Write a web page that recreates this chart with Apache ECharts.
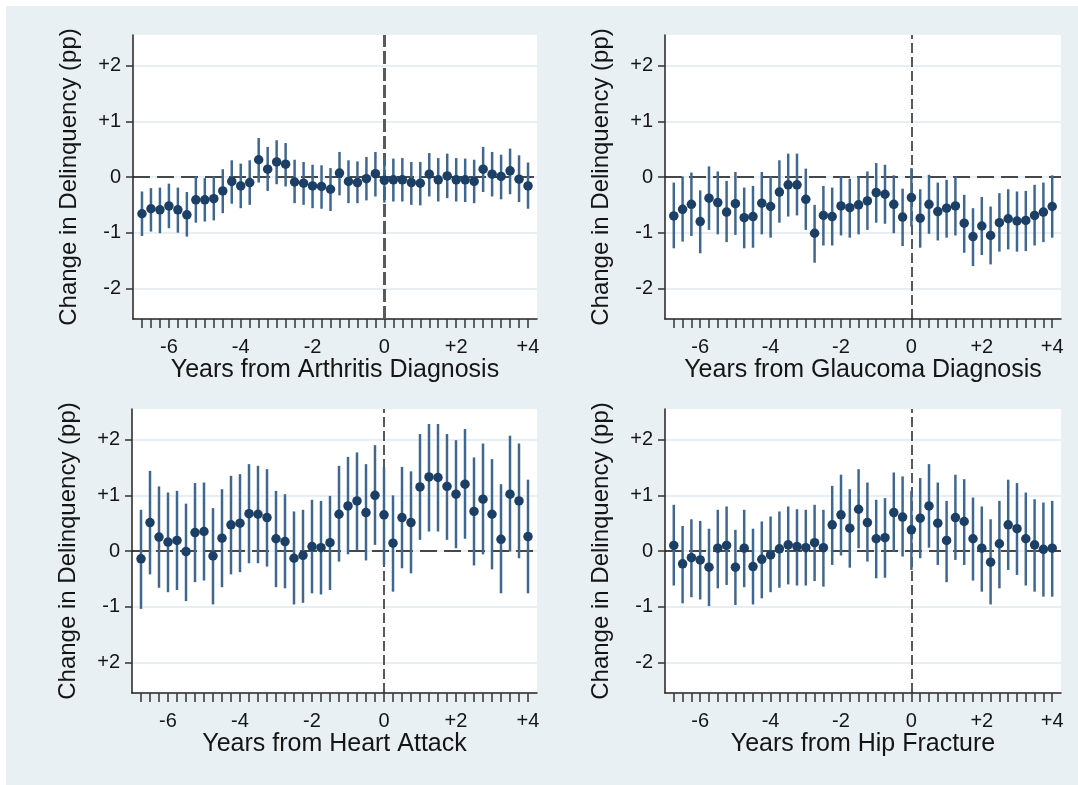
<!DOCTYPE html>
<html>
<head>
<meta charset="utf-8">
<script src="https://cdn.jsdelivr.net/npm/echarts@6/dist/echarts.min.js"></script>
<style>
  html, body { margin: 0; padding: 0; background: #fff; }
  #frame { position: absolute; left: 6px; top: 6px; width: 1072px; height: 779px; background: #e8f0f3; }
  #chart { position: absolute; left: 0; top: 0; width: 1078px; height: 785px; }
</style>
</head>
<body>
<div id="frame"></div>
<div id="chart"></div>
<script>
  // quarters relative to the event
  const quarters = [-6.75, -6.5, -6.25, -6, -5.75, -5.5, -5.25, -5, -4.75, -4.5, -4.25, -4,
    -3.75, -3.5, -3.25, -3, -2.75, -2.5, -2.25, -2, -1.75, -1.5, -1.25, -1, -0.75, -0.5, -0.25,
    0, 0.25, 0.5, 0.75, 1, 1.25, 1.5, 1.75, 2, 2.25, 2.5, 2.75, 3, 3.25, 3.5, 3.75, 4]

  const xTickValues = [-6, -4, -2, 0, 2, 4]
  const xTickLabels = ['-6', '-4', '-2', '0', '+2', '+4']
  const yTickValues = [-2, -1, 0, 1, 2]
  const yTickLabels = ['-2', '-1', '0', '+1', '+2']
  const heartYTickLabels = ['+2', '-1', '0', '+1', '+2']

  const arthritisEst = [-0.66, -0.57, -0.59, -0.52, -0.59, -0.68, -0.41, -0.41, -0.39, -0.25, -0.08, -0.16, -0.10, 0.31, 0.14, 0.27, 0.23, -0.09, -0.11, -0.16, -0.17, -0.22, 0.07, -0.08, -0.10, -0.03, 0.06, -0.06, -0.05, -0.05, -0.10, -0.11, 0.05, -0.05, 0.02, -0.05, -0.05, -0.08, 0.14, 0.05, 0.01, 0.11, -0.04, -0.16]
  const arthritisLo = [-1.06, -0.98, -1.01, -0.92, -1.00, -1.07, -0.82, -0.80, -0.78, -0.65, -0.48, -0.56, -0.50, -0.10, -0.25, -0.13, -0.17, -0.47, -0.50, -0.56, -0.57, -0.61, -0.33, -0.47, -0.47, -0.42, -0.35, -0.46, -0.44, -0.44, -0.50, -0.51, -0.35, -0.44, -0.38, -0.44, -0.45, -0.47, -0.27, -0.35, -0.40, -0.31, -0.45, -0.57]
  const arthritisHi = [-0.26, -0.20, -0.19, -0.12, -0.19, -0.27, 0.01, -0.02, 0.01, 0.14, 0.30, 0.24, 0.30, 0.70, 0.54, 0.66, 0.61, 0.31, 0.27, 0.22, 0.21, 0.16, 0.45, 0.30, 0.28, 0.36, 0.45, 0.33, 0.33, 0.34, 0.27, 0.27, 0.43, 0.34, 0.42, 0.34, 0.33, 0.31, 0.54, 0.45, 0.40, 0.51, 0.39, 0.26]

  const glaucomaEst = [-0.70, -0.58, -0.49, -0.80, -0.38, -0.46, -0.63, -0.48, -0.73, -0.71, -0.47, -0.53, -0.27, -0.14, -0.14, -0.40, -1.01, -0.69, -0.71, -0.52, -0.55, -0.50, -0.43, -0.28, -0.31, -0.49, -0.72, -0.37, -0.74, -0.49, -0.62, -0.56, -0.52, -0.83, -1.07, -0.88, -1.05, -0.82, -0.75, -0.79, -0.78, -0.69, -0.63, -0.53]
  const glaucomaLo = [-1.28, -1.16, -1.06, -1.37, -0.95, -1.03, -1.17, -1.04, -1.28, -1.27, -1.03, -1.09, -0.82, -0.71, -0.69, -0.95, -1.54, -1.23, -1.23, -1.05, -1.09, -1.03, -0.95, -0.82, -0.84, -1.01, -1.24, -0.89, -1.27, -1.02, -1.14, -1.09, -1.05, -1.36, -1.60, -1.40, -1.57, -1.34, -1.30, -1.34, -1.33, -1.23, -1.17, -1.09]
  const glaucomaHi = [-0.10, 0.01, 0.08, -0.24, 0.19, 0.10, -0.07, 0.09, -0.19, -0.16, 0.09, 0.01, 0.30, 0.42, 0.42, 0.15, -0.50, -0.16, -0.19, 0.01, -0.03, 0.01, 0.10, 0.25, 0.22, 0.03, -0.21, 0.16, -0.22, 0.04, -0.10, -0.05, 0.01, -0.32, -0.56, -0.36, -0.53, -0.29, -0.22, -0.26, -0.25, -0.14, -0.10, 0.03]

  const heartEst = [-0.14, 0.51, 0.25, 0.16, 0.19, -0.01, 0.33, 0.35, -0.09, 0.23, 0.47, 0.50, 0.67, 0.66, 0.60, 0.22, 0.17, -0.13, -0.08, 0.08, 0.06, 0.15, 0.66, 0.81, 0.90, 0.69, 1.00, 0.65, 0.14, 0.60, 0.51, 1.15, 1.33, 1.32, 1.16, 1.02, 1.20, 0.71, 0.93, 0.66, 0.21, 1.02, 0.90, 0.26]
  const heartLo = [-1.04, -0.42, -0.66, -0.74, -0.70, -0.90, -0.56, -0.53, -0.96, -0.65, -0.42, -0.38, -0.22, -0.22, -0.28, -0.65, -0.67, -0.96, -0.93, -0.76, -0.78, -0.70, -0.19, -0.06, 0.02, -0.17, 0.11, -0.25, -0.73, -0.31, -0.40, 0.20, 0.35, 0.35, 0.20, 0.05, 0.22, -0.26, -0.06, -0.33, -0.76, -0.01, -0.13, -0.76]
  const heartHi = [0.74, 1.44, 1.16, 1.05, 1.08, 0.85, 1.22, 1.23, 0.77, 1.11, 1.35, 1.38, 1.56, 1.53, 1.47, 1.08, 1.02, 0.71, 0.74, 0.92, 0.90, 0.99, 1.53, 1.69, 1.77, 1.56, 1.90, 1.51, 1.00, 1.51, 1.43, 2.10, 2.28, 2.28, 2.10, 1.99, 2.19, 1.68, 1.93, 1.65, 1.20, 2.07, 1.93, 1.28]

  const hipEst = [0.10, -0.23, -0.12, -0.16, -0.29, 0.05, 0.10, -0.29, 0.05, -0.28, -0.15, -0.07, 0.04, 0.11, 0.08, 0.06, 0.15, 0.06, 0.47, 0.65, 0.41, 0.75, 0.51, 0.22, 0.24, 0.69, 0.61, 0.38, 0.59, 0.81, 0.50, 0.19, 0.60, 0.53, 0.22, 0.05, -0.20, 0.13, 0.47, 0.40, 0.22, 0.11, 0.03, 0.05]
  const hipLo = [-0.62, -0.94, -0.83, -0.87, -0.99, -0.67, -0.61, -0.97, -0.65, -0.96, -0.85, -0.74, -0.66, -0.60, -0.62, -0.62, -0.54, -0.64, -0.25, -0.08, -0.30, 0.05, -0.19, -0.49, -0.48, -0.01, -0.10, -0.34, -0.13, 0.06, -0.25, -0.56, -0.16, -0.25, -0.53, -0.73, -0.96, -0.67, -0.34, -0.43, -0.62, -0.73, -0.82, -0.82]
  const hipHi = [0.83, 0.45, 0.57, 0.54, 0.40, 0.74, 0.80, 0.38, 0.74, 0.40, 0.53, 0.62, 0.71, 0.80, 0.75, 0.74, 0.83, 0.74, 1.17, 1.37, 1.11, 1.47, 1.23, 0.92, 0.95, 1.41, 1.34, 1.08, 1.31, 1.56, 1.23, 0.90, 1.37, 1.29, 0.96, 0.80, 0.57, 0.90, 1.28, 1.22, 1.05, 0.93, 0.87, 0.90]

  const panels = [
    { title: 'Years from Arthritis Diagnosis', est: arthritisEst, lo: arthritisLo, hi: arthritisHi, yLabels: yTickLabels,
      grid: { left: 133, top: 35, width: 404, height: 284 }, vline: { color: '#5a5a5a', width: 3, type: [13, 4] } },
    { title: 'Years from Glaucoma Diagnosis', est: glaucomaEst, lo: glaucomaLo, hi: glaucomaHi, yLabels: yTickLabels,
      grid: { left: 665, top: 35, width: 396, height: 284 }, vline: { color: '#222', width: 1.5, type: [10, 4] } },
    { title: 'Years from Heart Attack', est: heartEst, lo: heartLo, hi: heartHi, yLabels: heartYTickLabels,
      grid: { left: 132, top: 409, width: 405, height: 284 }, vline: { color: '#222', width: 1.5, type: [10, 4] } },
    { title: 'Years from Hip Fracture', est: hipEst, lo: hipLo, hi: hipHi, yLabels: yTickLabels,
      grid: { left: 665, top: 409, width: 396, height: 284 }, vline: { color: '#222', width: 1.5, type: [10, 4] } }
  ]

  const font = 'Liberation Sans, Arial, sans-serif'
  const textColor = '#151515'

  function pick(values, labels) {
    return function (v) {
      for (let i = 0; i < values.length; i++) {
        if (Math.abs(values[i] - v) < 1e-6) return labels[i]
      }
      return ''
    }
  }

  const option = {
    animation: false,
    grid: [], xAxis: [], yAxis: [], series: []
  }

  panels.forEach(function (p, i) {
    option.grid.push(Object.assign({ show: true, backgroundColor: '#fff', borderWidth: 0 }, p.grid))
    option.xAxis.push({
      type: 'value', gridIndex: i, min: -7, max: 4.25,
      name: p.title, nameLocation: 'middle', nameGap: 34,
      nameTextStyle: { fontSize: 25, color: textColor, fontFamily: font },
      axisLine: { show: true, onZero: false, lineStyle: { color: '#222', width: 1.5 } },
      axisTick: { show: true, customValues: quarters, length: 9, lineStyle: { color: '#333', width: 1.5 } },
      axisLabel: { customValues: xTickValues, formatter: pick(xTickValues, xTickLabels),
        fontSize: 20, margin: 18, color: textColor, fontFamily: font },
      splitLine: { show: false }
    })
    option.yAxis.push({
      type: 'value', gridIndex: i, min: -2.55, max: 2.55,
      name: 'Change in Delinquency (pp)', nameLocation: 'middle', nameGap: 52,
      nameTextStyle: { fontSize: 24, color: textColor, fontFamily: font },
      axisLine: { show: true, onZero: false, lineStyle: { color: '#222', width: 1.5 } },
      axisTick: { show: true, customValues: yTickValues, length: 7, lineStyle: { color: '#333', width: 1.5 } },
      axisLabel: { customValues: yTickValues, formatter: pick(yTickValues, p.yLabels),
        fontSize: 20, margin: 12, color: textColor, fontFamily: font },
      splitLine: { show: true, lineStyle: { color: '#e1eaf0', width: 1.5 } }
    })
    option.series.push({
      type: 'custom', xAxisIndex: i, yAxisIndex: i, z: 2,
      data: quarters.map(function (q, k) { return [q, p.lo[k], p.hi[k]] }),
      encode: { x: 0, y: [1, 2] },
      renderItem: function (params, api) {
        const a = api.coord([api.value(0), api.value(1)])
        const b = api.coord([api.value(0), api.value(2)])
        return { type: 'line', shape: { x1: a[0], y1: a[1], x2: b[0], y2: b[1] },
          style: { stroke: '#40688f', lineWidth: 2.5 } }
      },
      markLine: {
        silent: true, symbol: 'none', z: 1, label: { show: false },
        data: [
          { yAxis: 0, lineStyle: { color: '#111', width: 1.5, type: [17, 7] } },
          { xAxis: 0, lineStyle: p.vline }
        ]
      }
    })
    option.series.push({
      type: 'scatter', xAxisIndex: i, yAxisIndex: i, z: 3,
      symbolSize: 9.5,
      itemStyle: { color: '#1c3f66', opacity: 1 },
      data: quarters.map(function (q, k) { return [q, p.est[k]] })
    })
  })

  const chart = echarts.init(document.getElementById('chart'))
  chart.setOption(option)
</script>
</body>
</html>
